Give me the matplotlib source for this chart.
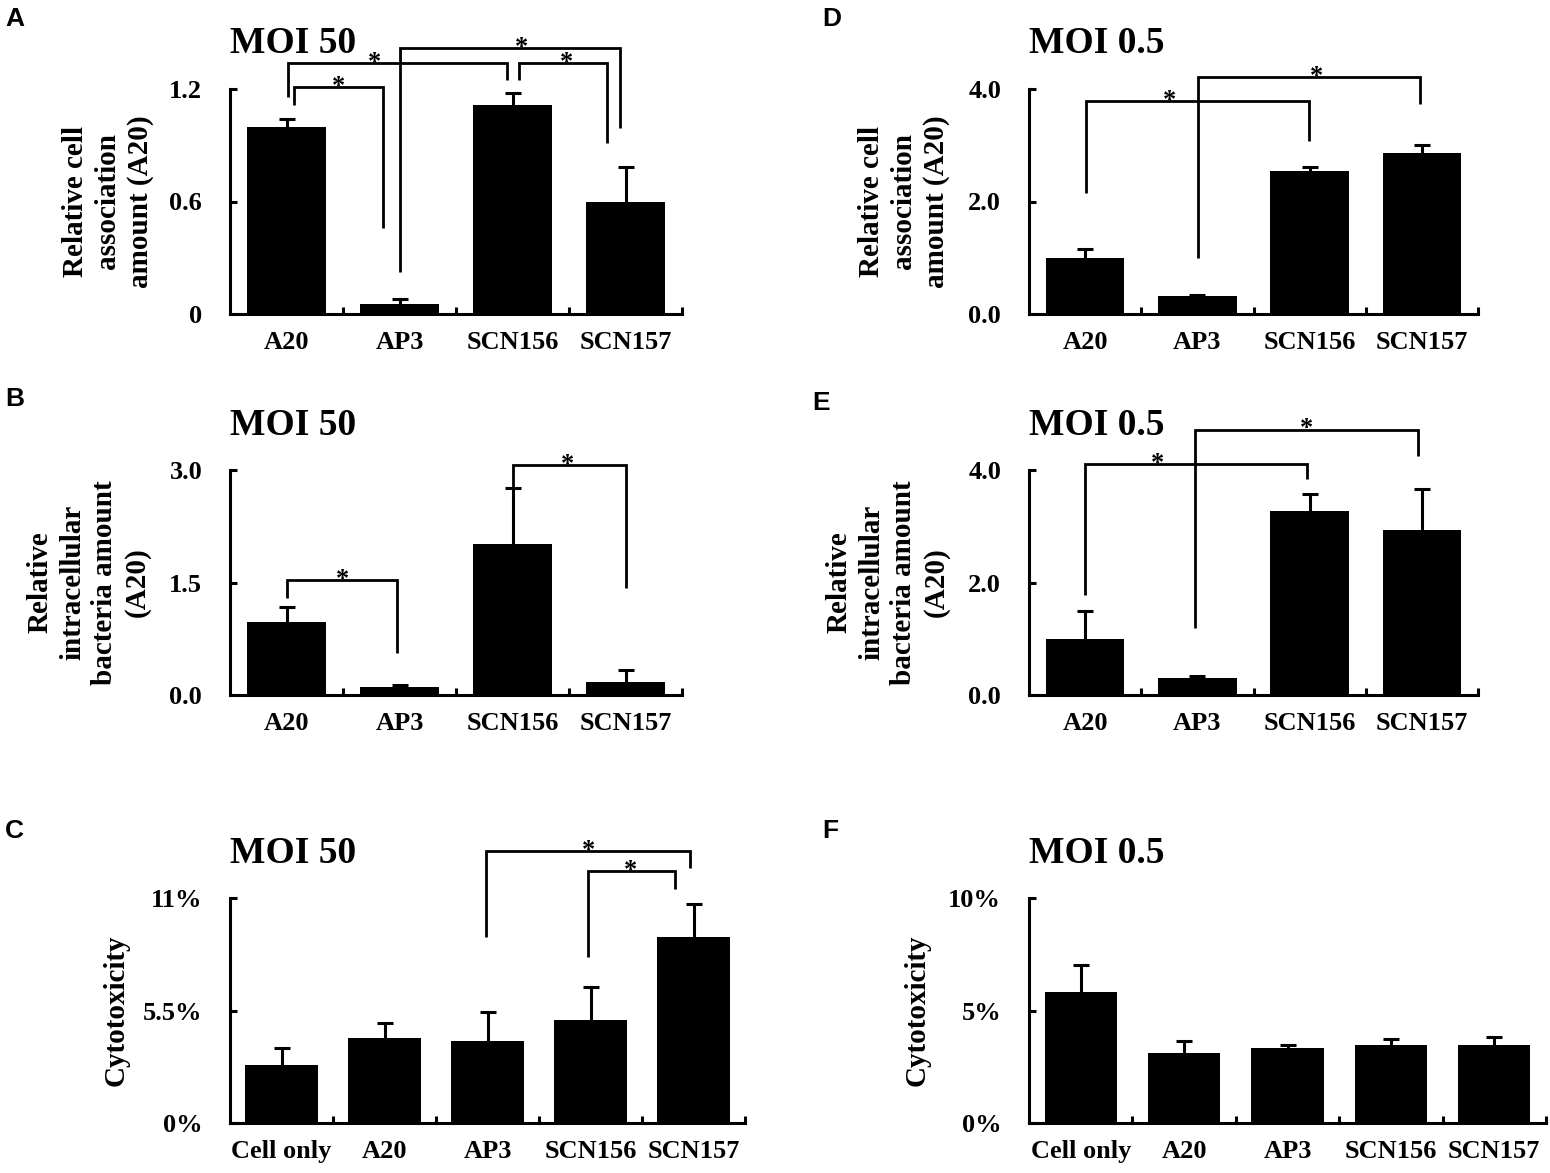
import matplotlib
matplotlib.use('Agg')
import matplotlib.pyplot as plt
import numpy as np

W, H = 1550, 1173
fig = plt.figure(figsize=(W / 100, H / 100), dpi=100)

SERIF = ['Liberation Serif', 'DejaVu Serif']
SANS = ['Liberation Sans', 'DejaVu Sans']
LW = 2.2

# ---------------- data ----------------
strains4 = ['A20', 'AP3', 'SCN156', 'SCN157']
strains5 = ['Cell only', 'A20', 'AP3', 'SCN156', 'SCN157']

# A: relative cell association, MOI 50
assoc50_mean = [1.00, 0.053, 1.115, 0.60]
assoc50_err = [0.042, 0.027, 0.065, 0.186]
# B: relative intracellular bacteria, MOI 50
intra50_mean = [0.977, 0.11, 2.01, 0.17]
intra50_err = [0.20, 0.023, 0.75, 0.16]
# C: cytotoxicity (%), MOI 50
cyto50_mean = [2.84, 4.17, 4.03, 5.04, 9.08]
cyto50_err = [0.83, 0.74, 1.42, 1.63, 1.62]
# D: relative cell association, MOI 0.5
assoc05_mean = [1.00, 0.32, 2.55, 2.86]
assoc05_err = [0.156, 0.024, 0.06, 0.136]
# E: relative intracellular bacteria, MOI 0.5
intra05_mean = [0.996, 0.31, 3.28, 2.93]
intra05_err = [0.494, 0.03, 0.29, 0.73]
# F: cytotoxicity (%), MOI 0.5
cyto05_mean = [5.83, 3.12, 3.33, 3.48, 3.48]
cyto05_err = [1.19, 0.51, 0.12, 0.27, 0.33]

# significance brackets: (x_left, x_right, y_top, y_left_end, y_right_end, x_star)
sig_A = [(0.067, 0.853, 1.212, 1.115, 0.459, 0.462),
         (0.016, 1.95, 1.34, 1.159, 1.248, 0.775),
         (1.005, 2.955, 1.417, 0.226, 0.992, 2.08),
         (2.054, 2.833, 1.34, 1.248, 0.912, 2.475)]
sig_B = [(0.0, 0.982, 1.533, 1.293, 0.56, 0.5),
         (2.0, 3.0, 3.067, 2.764, 1.427, 2.49)]
sig_C = [(1.99, 3.97, 13.31, 9.11, 12.45, 2.98),
         (2.98, 3.82, 12.32, 8.13, 11.42, 3.39)]
sig_D = [(0.01, 1.996, 3.78, 2.15, 3.07, 0.754),
         (1.003, 2.985, 4.22, 1.0, 3.73, 2.06)]
sig_E = [(0.0, 1.975, 4.10, 1.78, 3.84, 0.646),
         (0.98, 2.963, 4.72, 1.19, 4.25, 1.97)]
sig_F = []


def draw_panel(spec):
    left, right, y_axis, y_top = spec['box']
    ax = fig.add_axes([left / W, 1 - y_axis / H, (right - left) / W, (y_axis - y_top) / H])
    cats, means, errs = spec['cats'], spec['mean'], spec['err']
    n = len(cats)
    x = list(range(n))
    ax.bar(x, means, width=0.7, color='black', linewidth=0, zorder=2)
    eb = ax.errorbar(x, means, yerr=[[0] * n, errs], fmt='none', ecolor='black',
                     elinewidth=LW, capsize=5.6, capthick=LW, zorder=3, clip_on=False)
    # hide the (zero-length) lower caps
    for cl in eb.lines[1]:
        if np.allclose(np.asarray(cl.get_ydata(), dtype=float), np.asarray(means, dtype=float)):
            cl.set_visible(False)
    ax.set_xlim(-0.5, n - 0.5)
    ax.set_ylim(0, spec['ymax'])
    for s in ('top', 'right'):
        ax.spines[s].set_visible(False)
    for s in ('left', 'bottom'):
        ax.spines[s].set_linewidth(LW)
    ax.set_xticks(x)
    ax.set_xticklabels(cats, fontfamily=SERIF, fontweight='bold', fontsize=19)
    ax.tick_params(axis='x', which='major', length=0, pad=12)
    ax.set_xticks([i + 0.5 for i in range(n)], minor=True)
    ax.tick_params(axis='x', which='minor', direction='in', length=5, width=LW)
    ax.set_yticks(spec['yticks'])
    ax.set_yticklabels(spec['yticklabels'], fontfamily=SERIF, fontweight='bold', fontsize=19)
    ax.tick_params(axis='y', direction='in', length=5, width=LW, pad=20)
    ax.patch.set_visible(False)

    for (xl, xr, yt, yl, yr, xs) in spec['sig']:
        ax.plot([xl, xl, xr, xr], [yl, yt, yt, yr], color='black', lw=2.0,
                clip_on=False, solid_joinstyle='miter', solid_capstyle='butt', zorder=4)
        ax.annotate('*', xy=(xs, yt), xytext=(0, -4.3), textcoords='offset points',
                    ha='center', va='baseline', fontsize=19, fontfamily=SERIF,
                    fontweight='bold', annotation_clip=False)

    fig.text(spec['ylabel_x'] / W, 1 - (y_axis + y_top) / 2 / H, spec['ylabel'],
             rotation=90, ha='center', va='center', multialignment='center',
             linespacing=1.25, fontfamily=SERIF, fontweight='bold', fontsize=21)
    fig.text(left / W, 1 - spec['title_y'] / H, spec['title'], ha='left', va='baseline',
             fontfamily=SERIF, fontweight='bold', fontsize=27)
    lx, ly = spec['letter_pos']
    fig.text(lx / W, 1 - ly / H, spec['letter'], ha='left', va='top',
             fontfamily=SANS, fontweight='bold', fontsize=19)
    return ax


specs = [
    dict(box=(230, 682, 314, 89), cats=strains4, mean=assoc50_mean, err=assoc50_err,
         ymax=1.2, yticks=[0, 0.6, 1.2], yticklabels=['0', '0.6', '1.2'],
         ylabel='Relative cell\nassociation\namount (A20)', ylabel_x=108,
         title='MOI 50', title_y=53, letter='A', letter_pos=(5, 7), sig=sig_A),
    dict(box=(230, 682, 695, 470), cats=strains4, mean=intra50_mean, err=intra50_err,
         ymax=3.0, yticks=[0, 1.5, 3.0], yticklabels=['0.0', '1.5', '3.0'],
         ylabel='Relative\nintracellular\nbacteria amount\n(A20)', ylabel_x=89,
         title='MOI 50', title_y=435, letter='B', letter_pos=(5, 387), sig=sig_B),
    dict(box=(230, 745, 1123, 898), cats=strains5, mean=cyto50_mean, err=cyto50_err,
         ymax=11, yticks=[0, 5.5, 11], yticklabels=['0%', '5.5%', '11%'],
         ylabel='Cytotoxicity', ylabel_x=116,
         title='MOI 50', title_y=863, letter='C', letter_pos=(5, 819), sig=sig_C),
    dict(box=(1029, 1478, 314, 89), cats=strains4, mean=assoc05_mean, err=assoc05_err,
         ymax=4.0, yticks=[0, 2.0, 4.0], yticklabels=['0.0', '2.0', '4.0'],
         ylabel='Relative cell\nassociation\namount (A20)', ylabel_x=904,
         title='MOI 0.5', title_y=53, letter='D', letter_pos=(822, 7), sig=sig_D),
    dict(box=(1029, 1478, 695, 470), cats=strains4, mean=intra05_mean, err=intra05_err,
         ymax=4.0, yticks=[0, 2.0, 4.0], yticklabels=['0.0', '2.0', '4.0'],
         ylabel='Relative\nintracellular\nbacteria amount\n(A20)', ylabel_x=888,
         title='MOI 0.5', title_y=435, letter='E', letter_pos=(812, 391), sig=sig_E),
    dict(box=(1029, 1546, 1123, 898), cats=strains5, mean=cyto05_mean, err=cyto05_err,
         ymax=10, yticks=[0, 5, 10], yticklabels=['0%', '5%', '10%'],
         ylabel='Cytotoxicity', ylabel_x=917,
         title='MOI 0.5', title_y=863, letter='F', letter_pos=(822, 819), sig=sig_F),
]

for sp in specs:
    draw_panel(sp)

fig.savefig('out.png', dpi=100)
